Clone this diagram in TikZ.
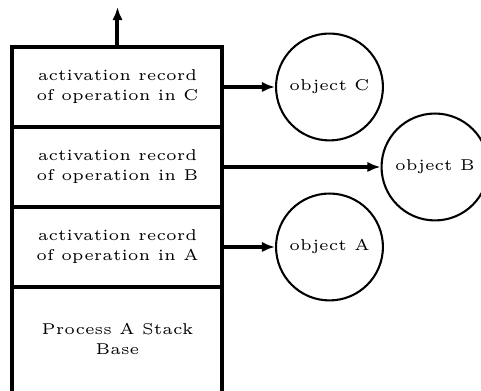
\documentclass[tikz,border=0pt]{standalone}
\usetikzlibrary{arrows.meta,positioning}
\begin{document}
\begin{tikzpicture}[x=0.29pt, y=-0.29pt, >={Latex[length=3.8pt,width=3pt]},
	record/.style={draw, line width=1.16pt, outer sep=0pt, minimum width=60.9pt, minimum height=23.2pt, inner sep=0pt, align=center, font=\fontsize{4.55}{5.8}\selectfont},
	object/.style={draw, circle, line width=0.6pt, minimum size=31pt, inner sep=0pt, font=\fontsize{4.55}{5.8}\selectfont},
	link/.style={->, line width=1.16pt}]
	\useasboundingbox (0,0) rectangle (481,391);
	
	\foreach \m [count=\y] in {C,B,A}
	\node [record] (record-\m) at (117.5,7+\y*80) {activation record\\of operation in \m};
	
	\node [record, draw=none, minimum height=30.2pt] (base) at (117.5,339) {Process A Stack\\Base};
	
	\foreach \m/\x [count=\y] in {C/329.5,B/435,A/329.5}
	\node [object] (object-\m) at (\x,7+\y*80) {object \m};
	
	\coordinate (top) at (117.5,7);
	
	\draw [line width=1.16pt] (base.north west) -- (base.south west)
		(base.north east) -- (base.south east);
	
	\draw [link] (record-C.north) -- (top);
	
	\foreach \m in {C,B,A}
	\draw [link] (record-\m.east) -- (object-\m.west);
\end{tikzpicture}
\end{document}
